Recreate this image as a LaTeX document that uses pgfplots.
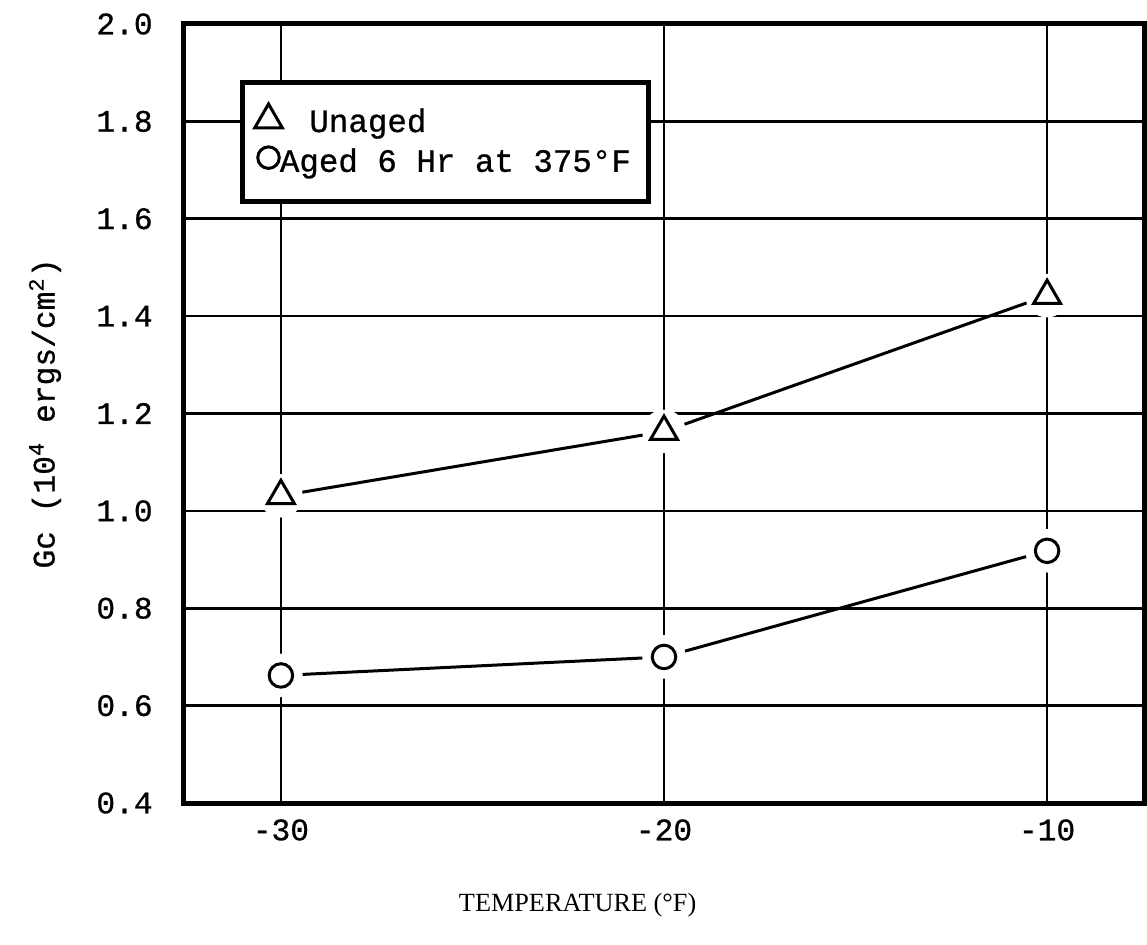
\documentclass[border=0pt]{standalone}
\usepackage{pgfplots}
\pgfplotsset{compat=1.18}
\usepackage{fontspec}
\setmainfont{Liberation Serif}
\setmonofont{Liberation Mono}
\newfontfamily\typewr{Liberation Mono}[FakeBold=0.8]
\begin{document}
\begin{tikzpicture}
\begin{axis}[
    name=main,
    scale only axis,
    width=384pt,
    height=311.6pt,
    xmin=-32.53, xmax=-7.47,
    ymin=0.4, ymax=2.0,
    xtick={-30,-20,-10},
    ytick={0.4,0.6,0.8,1.0,1.2,1.4,1.6,1.8,2.0},
    yticklabel style={/pgf/number format/fixed, /pgf/number format/precision=1,
        /pgf/number format/fixed zerofill, xshift=-9pt},
    xticklabel style={yshift=-3pt},
    /pgf/number format/assume math mode=true,
    tick label style={font=\fontsize{12.5}{14}\typewr},
    major tick length=0pt,
    grid=major,
    grid style={black, line width=1pt},
    axis line style={black, line width=2pt},
    xlabel={TEMPERATURE (°F)},
    xlabel style={font=\fontsize{10.5}{12}\selectfont, at={(axis description cs:0.41,0)}, anchor=center, yshift=-40.8pt},
    ylabel={Gc (10\textsuperscript{4} ergs/cm\textsuperscript{2})},
    ylabel style={font=\fontsize{12.5}{14}\typewr, at={([xshift=-55.6pt]axis description cs:0,0.5)}, anchor=center},
    legend style={at={(rel axis cs:0.058,0.9285)}, anchor=north west,
        draw=black, line width=2pt, fill=white,
        font=\fontsize{13}{15}\typewr,
        inner xsep=5pt, inner ysep=8.5pt,
        row sep=1pt,
        /tikz/every even column/.append style={column sep=0pt}},
    legend cell align=left,
]
% white halos that break the grid lines around the marks
\addplot[only marks, mark=*, mark size=8.5pt, white, forget plot] coordinates {
    (-30,1.031) (-20,1.163) (-10,1.442)
};
\addplot[only marks, mark=*, mark size=8.5pt, white, forget plot] coordinates {
    (-30,0.662) (-20,0.700) (-10,0.918)
};
\addplot[black, line width=1.2pt, mark=triangle, mark size=6.2pt,
    mark options={fill=white, line width=1.2pt}, forget plot] coordinates {
    (-30,1.031) (-20,1.163) (-10,1.442)
};
\addplot[black, line width=1.2pt, mark=o, mark size=4.7pt,
    mark options={fill=white, line width=1.2pt}, forget plot] coordinates {
    (-30,0.662) (-20,0.700) (-10,0.918)
};
\addlegendimage{legend image code/.code={\draw[black, line width=1.2pt] plot[mark=triangle, mark size=6.4pt] coordinates {(0.3cm,0.03cm)};}}
\addlegendentry{\hspace{1pt} Unaged}
\addlegendimage{legend image code/.code={\draw[black, line width=1.2pt] plot[mark=o, mark size=4.3pt] coordinates {(0.3cm,0.06cm)};}}
\addlegendentry{\hspace{-3pt}Aged 6 Hr at 375°F\hspace{0.5pt}}
\end{axis}
\path (main.south west) ++(-73.6pt,-56.4pt) (main.north east) ++(1.2pt,9.6pt);
\end{tikzpicture}
\end{document}
